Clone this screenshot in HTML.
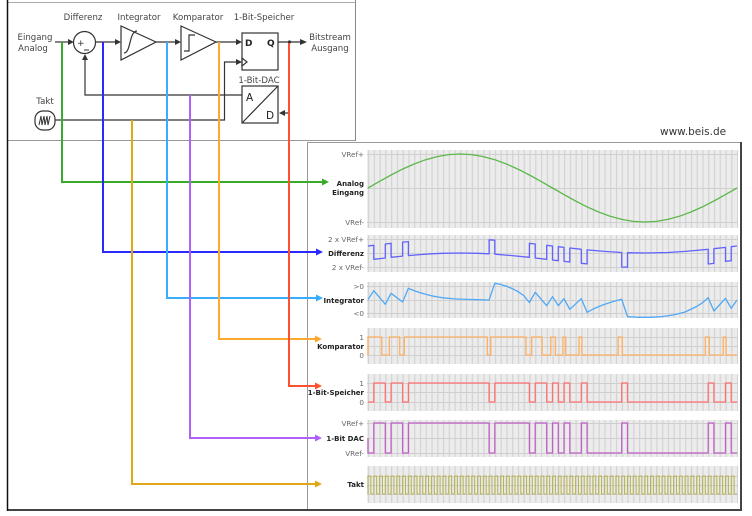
<!DOCTYPE html>
<html><head><meta charset="utf-8"><style>
html,body{margin:0;padding:0;background:#fff;width:752px;height:516px;overflow:hidden}
svg{display:block}
.t{font-family:"DejaVu Sans","Liberation Sans",sans-serif;font-size:8.6px;fill:#444}
.lv{font-family:"DejaVu Sans","Liberation Sans",sans-serif;font-size:7.2px;fill:#666;text-anchor:end}
.tt{font-family:"DejaVu Sans","Liberation Sans",sans-serif;font-size:7px;font-weight:bold;fill:#222;text-anchor:end}
</style></head><body>
<svg width="752" height="516" viewBox="0 0 752 516" xmlns="http://www.w3.org/2000/svg">
<defs>
<pattern id="g" patternUnits="userSpaceOnUse" x="368" y="0" width="5.7656" height="516"><rect x="0" y="0" width="1.2" height="516" fill="#d3d3d3"/></pattern>
</defs>
<rect width="752" height="516" fill="#fff"/>

<!-- frames -->
<line x1="7" y1="2.5" x2="355" y2="2.5" stroke="#aaa" stroke-width="1"/>
<line x1="355.5" y1="0" x2="355.5" y2="141" stroke="#888" stroke-width="1"/>
<line x1="7" y1="140.5" x2="355" y2="140.5" stroke="#999" stroke-width="1"/>
<line x1="307.5" y1="142" x2="307.5" y2="510" stroke="#999" stroke-width="1"/>
<line x1="307" y1="142.5" x2="741" y2="142.5" stroke="#999" stroke-width="1"/>
<line x1="741" y1="142" x2="741" y2="511" stroke="#444" stroke-width="2"/>
<line x1="7" y1="510" x2="742" y2="510" stroke="#444" stroke-width="2"/>
<line x1="7.5" y1="0" x2="7.5" y2="511" stroke="#111" stroke-width="1.5"/>

<text x="660" y="135" font-family="DejaVu Sans, Liberation Sans, sans-serif" font-size="10.5" fill="#333">www.beis.de</text>

<!-- block diagram -->
<g class="t">
<text x="83" y="20" text-anchor="middle">Differenz</text>
<text x="139" y="20" text-anchor="middle">Integrator</text>
<text x="198" y="20" text-anchor="middle">Komparator</text>
<text x="264" y="20" text-anchor="middle">1-Bit-Speicher</text>
<text x="35" y="40" text-anchor="middle">Eingang</text>
<text x="33" y="51" text-anchor="middle">Analog</text>
<text x="330" y="40" text-anchor="middle">Bitstream</text>
<text x="330" y="51" text-anchor="middle">Ausgang</text>
<text x="259" y="83" text-anchor="middle">1-Bit-DAC</text>
<text x="45" y="104" text-anchor="middle">Takt</text>
</g>
<g stroke="#333" stroke-width="1.2" fill="none">
<path d="M55,42 H69"/>
<circle cx="84.5" cy="42.5" r="11"/>
<path d="M96,42 H116"/>
<polygon points="121,26 121,60 156,42"/>
<path d="M124,53 C131,53 129,31 137,31"/>
<path d="M156,42 H175"/>
<polygon points="181,26 181,60 216,42"/>
<path d="M184,51 H189 V35 H195"/>
<path d="M216,42 H237"/>
<rect x="242" y="33" width="36" height="37"/>
<polygon points="242,58 247,62 242,66"/>
<path d="M55,120 H224.5 V62 H236"/>
<path d="M278,42 H301"/>
<rect x="242" y="86" width="36" height="37"/>
<path d="M242,123 L278,86"/>
<path d="M289,42 V113 H284"/>
<path d="M242,95 H85 V59"/>
<rect x="35" y="111" width="20" height="19" rx="8"/>
<path d="M39,125 L41,116 L42,125 L44,116 L45,125 L47,116 L48,125 L50,116" stroke-width="1"/>
</g>
<g fill="#333">
<polygon points="68,39 74,42 68,45"/>
<polygon points="115,39 121,42 115,45"/>
<polygon points="175,39 181,42 175,45"/>
<polygon points="236,39 242,42 236,45"/>
<polygon points="236,59 242,62 236,65"/>
<polygon points="300,39 307,42 300,45"/>
<polygon points="285,110 279,113 285,116"/>
<polygon points="82,60 85,54 88,60"/>
<circle cx="289.5" cy="42" r="1.6"/>
</g>
<text x="77" y="46" font-family="DejaVu Sans, sans-serif" font-size="9" fill="#333">+</text>
<line x1="84" y1="50" x2="89" y2="50" stroke="#333" stroke-width="1"/>
<text x="245" y="46" font-family="DejaVu Sans, sans-serif" font-size="9" font-weight="bold" fill="#222">D</text>
<text x="267" y="46" font-family="DejaVu Sans, sans-serif" font-size="9" font-weight="bold" fill="#222">Q</text>
<text x="246" y="101" font-family="DejaVu Sans, sans-serif" font-size="10.5" fill="#222">A</text>
<text x="266" y="119" font-family="DejaVu Sans, sans-serif" font-size="10.5" fill="#222">D</text>

<!-- colored connector lines -->
<g fill="none" stroke-width="2">
<path d="M62,42 V182 H323" stroke="#3aaa2a"/>
<path d="M103,42 V252 H317" stroke="#2a2aff"/>
<path d="M132,120 V484 H316" stroke="#e0a818"/>
<path d="M167,42 V298 H317" stroke="#38acff"/>
<path d="M190,95 V438 H316" stroke="#b060ff"/>
<path d="M219,42 V339 H316" stroke="#ffa830"/>
<path d="M289,43 V386 H316" stroke="#ff5030"/>
</g>
<polygon points="322,178.5 329,182 322,185.5" fill="#3aaa2a"/>
<polygon points="316,248.5 323,252 316,255.5" fill="#2a2aff"/>
<polygon points="316,294.5 323,298 316,301.5" fill="#38acff"/>
<polygon points="315,335.5 322,339 315,342.5" fill="#ffa830"/>
<polygon points="315,382.5 322,386 315,389.5" fill="#ff5030"/>
<polygon points="315,434.5 322,438 315,441.5" fill="#b060ff"/>
<polygon points="315,480.5 322,484 315,487.5" fill="#e0a818"/>

<!-- panels backgrounds -->
<g fill="#ececec">
<rect x="367" y="150" width="371" height="78"/>
<rect x="367" y="235" width="371" height="37"/>
<rect x="367" y="282" width="371" height="36"/>
<rect x="367" y="328" width="371" height="36"/>
<rect x="367" y="374" width="371" height="37"/>
<rect x="367" y="420" width="371" height="37"/>
<rect x="367" y="466" width="371" height="37"/>
</g>
<g fill="url(#g)">
<rect x="367" y="150" width="371" height="78"/>
<rect x="367" y="235" width="371" height="37"/>
<rect x="367" y="282" width="371" height="36"/>
<rect x="367" y="328" width="371" height="36"/>
<rect x="367" y="374" width="371" height="37"/>
<rect x="367" y="420" width="371" height="37"/>
<rect x="367" y="466" width="371" height="37"/>
</g>
<g stroke="#cfcfcf" stroke-width="1">
<path d="M367,154.5H738M367,188.5H738M367,222.5H738"/>
<path d="M367,239.5H738M367,253.5H738M367,267.5H738"/>
<path d="M367,286.5H738M367,300.5H738M367,313.5H738"/>
<path d="M367,337.5H738M367,346.5H738M367,355.5H738"/>
<path d="M367,383.5H738M367,392.5H738M367,402.5H738"/>
<path d="M367,423.5H738M367,438.5H738M367,453.5H738"/>
<path d="M367,476.5H738M367,485.5H738M367,494.5H738"/>
</g>

<!-- labels -->
<text class="lv" x="364" y="157">VRef+</text>
<text class="tt" x="364" y="186">Analog</text>
<text class="tt" x="364" y="195">Eingang</text>
<text class="lv" x="364" y="225">VRef-</text>
<text class="lv" x="364" y="242">2 x VRef+</text>
<text class="tt" x="364" y="256">Differenz</text>
<text class="lv" x="364" y="270">2 x VRef-</text>
<text class="lv" x="364" y="289">&gt;0</text>
<text class="tt" x="364" y="303">Integrator</text>
<text class="lv" x="364" y="316">&lt;0</text>
<text class="lv" x="364" y="340">1</text>
<text class="tt" x="364" y="349">Komparator</text>
<text class="lv" x="364" y="358">0</text>
<text class="lv" x="364" y="386">1</text>
<text class="tt" x="364" y="395">1-Bit-Speicher</text>
<text class="lv" x="364" y="405">0</text>
<text class="lv" x="364" y="426">VRef+</text>
<text class="tt" x="364" y="441">1-Bit DAC</text>
<text class="lv" x="364" y="456">VRef-</text>
<text class="tt" x="364" y="487">Takt</text>

<!-- traces -->
<g fill="none" stroke-width="1.3" stroke-linejoin="round">
<path stroke="#5cb84a" d="M368,188 L379.5,181.4 L391.1,175 L402.6,169.1 L414.1,164 L425.7,159.7 L437.2,156.6 L448.7,154.6 L460.3,154 L471.8,154.6 L483.3,156.6 L494.8,159.7 L506.4,164 L517.9,169.1 L529.4,175 L541,181.4 L552.5,188 L564,194.6 L575.6,201 L587.1,206.9 L598.6,212 L610.2,216.3 L621.7,219.4 L633.2,221.4 L644.8,222 L656.3,221.4 L667.8,219.4 L679.3,216.3 L690.9,212 L702.4,206.9 L713.9,201 L725.5,194.6 L737,188"/>
<path stroke="#6262ff" d="M368,246 L373.8,245.3 V259.3 L385.3,258 V244 L391.1,243.3 V257.3 L402.6,256.1 V242.1 L408.4,241.6 V255.6 L419.9,254.6 L431.4,253.8 L443,253.3 L460.3,253 L477.6,253.3 L489.1,253.8 V239.8 L494.8,240.2 V254.2 L512.1,255.6 L529.4,257.3 V243.3 L535.2,244 V258 L546.7,259.3 V245.3 L552.5,246 V260 L558.3,260.7 V246.7 L564,247.4 V261.4 L569.8,262 V248 L581.3,249.3 V263.3 L587.1,263.9 V249.9 L604.4,251.4 L621.7,252.5 V267 L627.5,267.2 V252.7 L644.8,253 L667.8,252.5 L685.1,251.4 L696.6,250.4 L708.2,249.3 V264 L713.9,263.4 V248.7 L725.5,247.4 V261.4 L731.2,260.7 V246.7 L737,246"/>
<path stroke="#50a8f5" d="M368,299.5 L373.8,290.7 L385.3,304.3 L391.1,293.3 L402.6,302 L408.4,288.3 L414.1,290.6 L419.9,292.6 L425.7,294.3 L431.4,295.8 L437.2,296.9 L443,297.8 L454.5,298.9 L466,299.4 L477.6,299.7 L489.1,300 L494.8,283.3 L500.6,284.4 L506.4,286.2 L512.1,288.6 L517.9,291.6 L523.7,295.5 L529.4,302.5 L535.2,292.3 L546.7,305.7 L552.5,296.7 L558.3,305.7 L564,298.7 L569.8,309.3 L581.3,298.7 L587.1,312.3 L592.9,309.2 L598.6,306.6 L604.4,304.4 L610.2,302.5 L615.9,300.8 L621.7,299.3 L627.5,316.7 L639,317.3 L650.5,317.3 L662,316.6 L673.6,314.9 L685.1,312 L696.6,306.5 L702.4,302.8 L708.2,297.7 L713.9,311 L725.5,298.3 L731.2,308.3 L737,300"/>
<path stroke="#ffb060" d="M368,355 V337 H381.8 V355 H389.3 V337 H399.7 V355 H404.3 V337 H487.3 V355 H490.8 V337 H526 V355 H531.7 V337 H542.1 V355 H550.8 V337 H555.4 V355 H562.9 V337 H565.8 V355 H579 V337 H581.9 V355 H618.2 V337 H622.3 V355 H705.3 V337 H709.3 V355 H723.2 V337 H726 V355 H737"/>
<path stroke="#ff7070" d="M368,402 H373.8 V383 H385.3 V402 H391.1 V383 H402.6 V402 H408.4 V383 H489.1 V402 H494.8 V383 H529.4 V402 H535.2 V383 H546.7 V402 H552.5 V383 H558.3 V402 H564 V383 H569.8 V402 H581.3 V383 H587.1 V402 H621.7 V383 H627.5 V402 H708.2 V383 H713.9 V402 H725.5 V383 H731.2 V402 H737"/>
<path stroke="#c060c8" d="M368,438 V453 H373.8 V423 H385.3 V453 H391.1 V423 H402.6 V453 H408.4 V423 H489.1 V453 H494.8 V423 H529.4 V453 H535.2 V423 H546.7 V453 H552.5 V423 H558.3 V453 H564 V423 H569.8 V453 H581.3 V423 H587.1 V453 H621.7 V423 H627.5 V453 H708.2 V423 H713.9 V453 H725.5 V423 H731.2 V453 H737"/>
<path stroke="#b8b45a" stroke-width="1.1" d="M368,494 v-18h2.883v18h2.883v-18h2.883v18h2.883v-18h2.883v18h2.883v-18h2.883v18h2.883v-18h2.883v18h2.883v-18h2.883v18h2.883v-18h2.883v18h2.883v-18h2.883v18h2.883 v-18h2.883v18h2.883v-18h2.883v18h2.883v-18h2.883v18h2.883v-18h2.883v18h2.883v-18h2.883v18h2.883v-18h2.883v18h2.883v-18h2.883v18h2.883v-18h2.883v18h2.883 v-18h2.883v18h2.883v-18h2.883v18h2.883v-18h2.883v18h2.883v-18h2.883v18h2.883v-18h2.883v18h2.883v-18h2.883v18h2.883v-18h2.883v18h2.883v-18h2.883v18h2.883 v-18h2.883v18h2.883v-18h2.883v18h2.883v-18h2.883v18h2.883v-18h2.883v18h2.883v-18h2.883v18h2.883v-18h2.883v18h2.883v-18h2.883v18h2.883v-18h2.883v18h2.883 v-18h2.883v18h2.883v-18h2.883v18h2.883v-18h2.883v18h2.883v-18h2.883v18h2.883v-18h2.883v18h2.883v-18h2.883v18h2.883v-18h2.883v18h2.883v-18h2.883v18h2.883 v-18h2.883v18h2.883v-18h2.883v18h2.883v-18h2.883v18h2.883v-18h2.883v18h2.883v-18h2.883v18h2.883v-18h2.883v18h2.883v-18h2.883v18h2.883v-18h2.883v18h2.883 v-18h2.883v18h2.883v-18h2.883v18h2.883v-18h2.883v18h2.883v-18h2.883v18h2.883v-18h2.883v18h2.883v-18h2.883v18h2.883v-18h2.883v18h2.883v-18h2.883v18h2.883 v-18h2.883v18h2.883v-18h2.883v18h2.883v-18h2.883v18h2.883v-18h2.883v18h2.883v-18h2.883v18h2.883v-18h2.883v18h2.883v-18h2.883v18h2.883v-18h2.883v18h2.883"/>
</g>
</svg>
</body></html>
